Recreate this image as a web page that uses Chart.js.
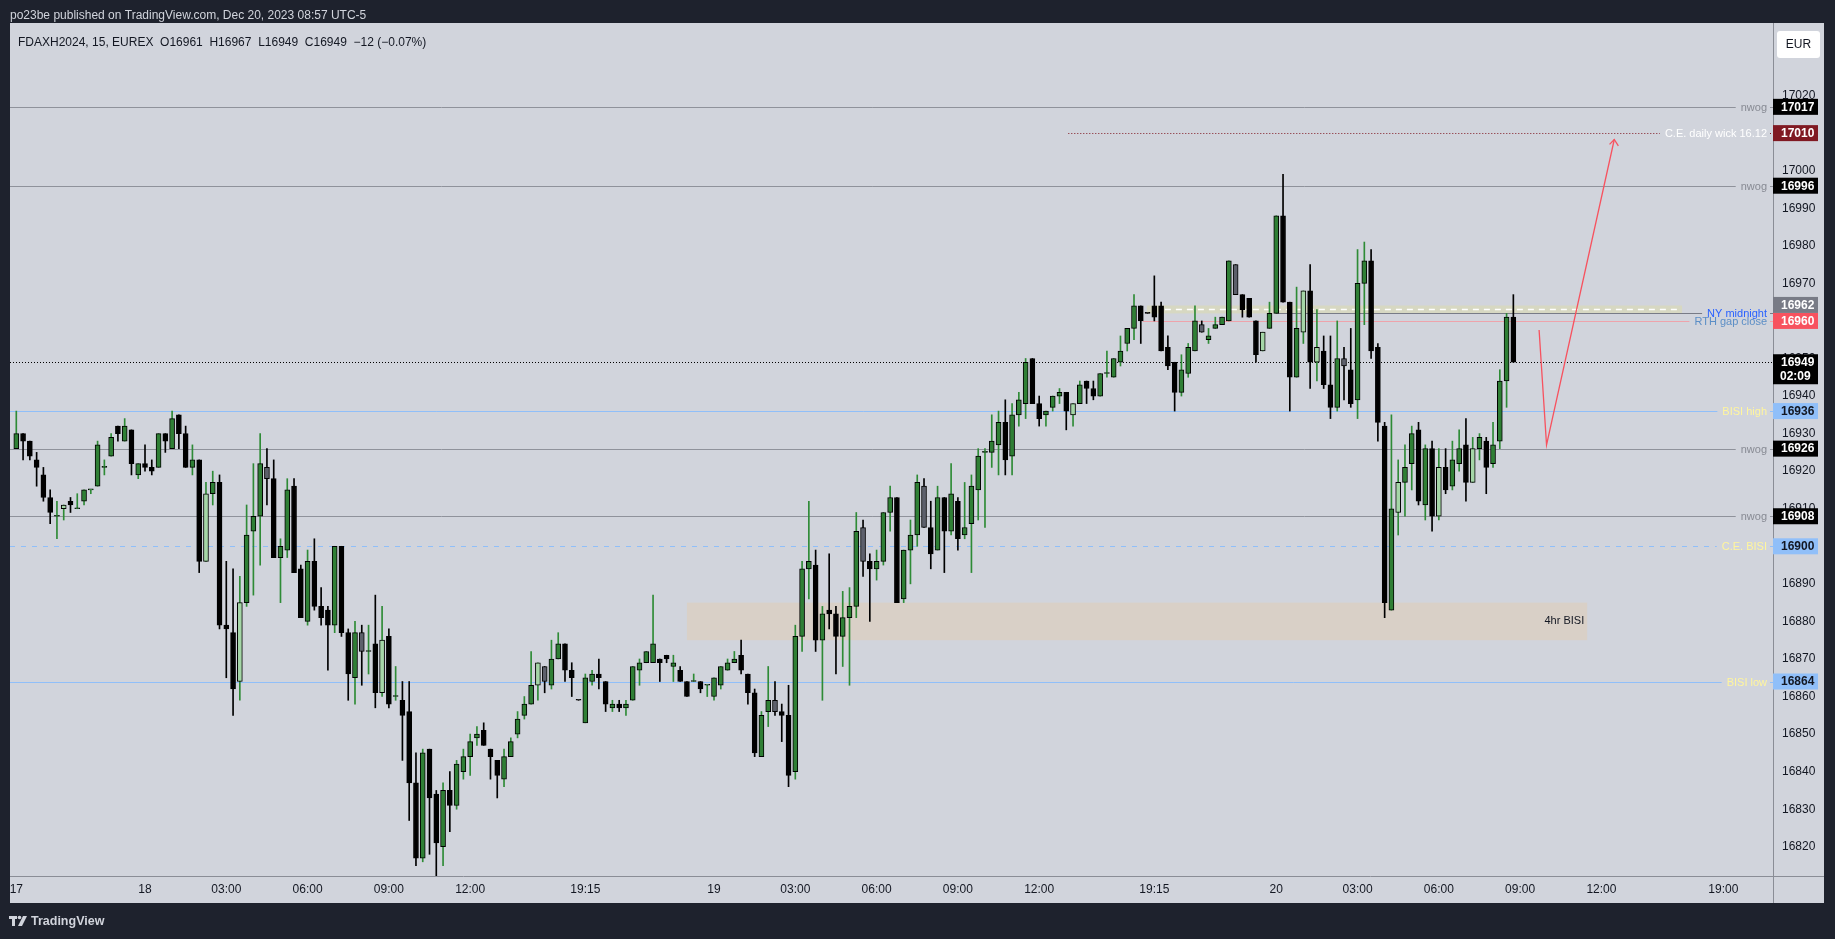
<!DOCTYPE html>
<html><head><meta charset="utf-8">
<script src="https://cdn.jsdelivr.net/npm/chart.js@4"></script>
<style>html,body{margin:0;padding:0;background:#1e222d;overflow:hidden}canvas{display:block}</style>
</head><body>
<canvas id="c" width="1835" height="939"></canvas>
<script>
// ---------- DATA (FDAXH2024, 15 min) ----------
const openP = [
16926,16930,16928,16923,16919,16913,16908,16910,16912,16910,
16912,16915,16916,16921,16924,16932,16928,16931,16919,16922,
16921,16921,16930,16926,16935,16930,16921,16923,16896,16914,
16917,16879,16877,16864,16885,16904,16908,16921,16918,16897,
16899,16916,16894,16880,16896,16884,16883,16879,16900,16877,
16865,16877,16872,16874,16861,16876,16860,16859,16856,16837,
16817,16846,16834,16820,16835,16831,16840,16844,16849,16851,
16846,16843,16838,16844,16850,16855,16858,16863,16868,16863,
16870,16874,16867,16859,16853,16864,16866,16864,16857,16858,
16857,16859,16867,16869,16869,16870,16871,16868,16867,16864,
16864,16864,16863,16860,16863,16867,16869,16871,16866,16861,
16844,16856,16859,16856,16855,16840,16876,16894,16895,16875,
16883,16882,16876,16881,16884,16905,16896,16894,16896,16909,
16913,16886,16899,16903,16916,16905,16899,16913,16904,16912,
16903,16906,16915,16925,16925,16927,16933,16924,16935,16938,
16950,16938,16935,16937,16940,16941,16935,16938,16944,16942,
16940,16946,16945,16949,16954,16958,16964,16962,16964,16964,
16953,16949,16941,16946,16952,16959,16955,16958,16959,16960,
16975,16967,16966,16960,16952,16958,16962,16988,16965,16945,
16957,16968,16949,16952,16943,16937,16950,16947,16939,16970,
16976,16953,16932,16883,16909,16917,16922,16931,16911,16926,
16908,16921,16916,16922,16927,16917,16926,16928,16922,16928,
16944,16961];
const highP = [
16936,16930,16928,16925,16921,16915,16912,16911,16913,16914,
16915,16915,16928,16923,16930,16932,16934,16931,16922,16927,
16923,16930,16930,16936,16935,16932,16927,16923,16917,16920,
16919,16896,16894,16892,16911,16922,16930,16926,16923,16902,
16918,16918,16895,16899,16902,16889,16884,16900,16900,16878,
16880,16879,16879,16887,16884,16878,16868,16864,16864,16845,
16846,16846,16835,16837,16840,16843,16846,16850,16852,16853,
16846,16843,16846,16849,16856,16860,16872,16869,16868,16875,
16877,16874,16869,16859,16866,16867,16870,16864,16859,16859,
16859,16868,16870,16872,16887,16870,16871,16871,16868,16864,
16866,16864,16863,16865,16868,16870,16872,16875,16866,16862,
16856,16868,16864,16858,16863,16879,16896,16912,16899,16884,
16898,16884,16888,16889,16909,16907,16898,16899,16909,16916,
16913,16899,16907,16919,16918,16912,16916,16913,16922,16913,
16917,16919,16926,16926,16935,16936,16939,16938,16941,16950,
16950,16940,16936,16940,16942,16941,16938,16944,16944,16944,
16946,16952,16950,16956,16958,16967,16964,16962,16972,16965,
16956,16949,16951,16954,16964,16960,16958,16961,16961,16976,
16975,16967,16966,16960,16957,16965,16988,16999,16965,16969,
16968,16975,16963,16956,16956,16960,16953,16958,16979,16981,
16979,16954,16933,16935,16923,16927,16932,16933,16927,16928,
16926,16926,16928,16931,16934,16929,16930,16929,16933,16947,
16962,16967];
const lowP = [
16926,16923,16923,16916,16912,16906,16902,16907,16909,16910,
16911,16914,16916,16919,16924,16928,16928,16919,16918,16920,
16919,16921,16925,16926,16926,16921,16919,16893,16896,16911,
16878,16865,16855,16859,16884,16887,16895,16911,16897,16885,
16897,16893,16881,16879,16883,16879,16867,16877,16876,16859,
16858,16863,16866,16857,16860,16857,16859,16843,16827,16815,
16816,16818,16812,16815,16824,16830,16838,16839,16847,16847,
16838,16833,16836,16844,16849,16854,16858,16859,16861,16862,
16870,16864,16860,16859,16853,16863,16862,16856,16856,16856,
16855,16859,16863,16869,16869,16864,16869,16864,16864,16860,
16864,16861,16860,16859,16862,16867,16869,16866,16858,16844,
16844,16852,16855,16848,16836,16838,16872,16886,16872,16859,
16878,16866,16868,16863,16881,16892,16880,16891,16895,16904,
16885,16885,16890,16900,16905,16894,16899,16893,16903,16899,
16902,16893,16907,16905,16921,16919,16919,16919,16932,16934,
16938,16932,16932,16936,16938,16931,16932,16938,16938,16939,
16940,16945,16945,16948,16952,16955,16954,16962,16960,16952,
16947,16936,16940,16945,16952,16957,16954,16958,16959,16960,
16967,16961,16961,16949,16952,16958,16962,16965,16936,16945,
16954,16942,16944,16942,16934,16936,16939,16937,16934,16959,
16950,16928,16881,16883,16903,16908,16915,16911,16907,16904,
16907,16914,16915,16920,16912,16917,16923,16914,16921,16926,
16937,16949];
const closeP = [
16930,16928,16924,16921,16913,16909,16908,16911,16911,16910,
16915,16915,16927,16921,16929,16930,16932,16922,16922,16921,
16920,16930,16928,16934,16930,16921,16923,16896,16914,16917,
16879,16878,16862,16885,16903,16908,16922,16918,16897,16900,
16915,16893,16881,16896,16884,16881,16879,16900,16877,16866,
16877,16872,16872,16861,16875,16858,16860,16855,16837,16817,
16845,16833,16821,16835,16831,16842,16844,16848,16850,16847,
16844,16839,16844,16848,16854,16858,16863,16869,16864,16870,
16874,16867,16865,16859,16865,16866,16865,16858,16858,16857,
16858,16868,16869,16872,16874,16869,16870,16869,16864,16860,
16864,16862,16863,16865,16868,16869,16870,16867,16861,16845,
16855,16859,16856,16855,16839,16876,16894,16896,16875,16882,
16882,16876,16881,16884,16904,16896,16894,16896,16909,16913,
16885,16899,16903,16917,16905,16898,16913,16904,16914,16902,
16905,16916,16924,16925,16928,16933,16923,16935,16939,16949,
16938,16934,16936,16940,16941,16936,16938,16943,16942,16940,
16946,16946,16950,16952,16958,16964,16960,16962,16961,16952,
16948,16941,16947,16953,16960,16957,16956,16959,16961,16976,
16967,16963,16961,16951,16957,16962,16988,16965,16945,16958,
16968,16949,16953,16943,16937,16950,16948,16938,16970,16976,
16952,16933,16885,16910,16917,16921,16930,16912,16926,16908,
16921,16915,16923,16926,16917,16926,16929,16921,16927,16944,
16961,16949];
// bar classification: G up, B down, L light up, D grey
const candleKind =
"GBBBBBGLBG"+"GGGGGBGBGB"+"BGBGBBGBLG"+"BBBLGGGDBG"+"GBBGBBBGBB"+
"GDGBLBGBBB"+"GBBGBGGGGB"+"BBGGGGGLDG"+"GBBBGGBBGB"+"GGGGGBBGBB"+
"GBGGGGGBBB"+"GGDBBGGGBG"+"BBGGGDBGGG"+"BGGGDBGBGB"+"GGGGGGBGGG"+
"BBGGGBLGBB"+"GGGGGGBBBB"+"BBGGGDGGGG"+"DBBBLGGBBG"+"LBLBBGDBGG"+
"BBBGLGGBGB"+"LBGGBLGBGG"+"GB";

// time axis labels (bar index -> label)
const tickIndex  = [0,19,31,43,55,67,84,103,115,127,139,151,168,186,198,210,222,234,252];
const tickLabels = ["17","18","03:00","06:00","09:00","12:00","19:15","19","03:00","06:00","09:00","12:00","19:15","20","03:00","06:00","09:00","12:00","19:00"];

// horizontal levels drawn on chart
const levelPrice = [17017, 17010, 16996, 16962, 16960, 16949, 16936, 16926, 16908, 16900, 16864];
const levelText  = ["nwog","C.E. daily wick 16.12","nwog","NY midnight","RTH gap close","","BISI high","nwog","nwog","C.E. BISI","BISI low"];
const levelStart = [null, 155.3, null, 186, 166.3, null, null, null, null, null, null];

// 4hr BISI zone, midnight band, arrow drawing (bar index / price)
const zoneTime = [99.0, 231.9];
const zonePrice = [16875, 16885];
const bandTime = [166.9, 245.9];
const bandPrice = [16962, 16964.1];
const arrowTime  = [224.8, 225.9, 235.9];
const arrowPrice = [16957.6, 16927.0, 17008.3];
const arrowHeadTime  = [235.2, 235.9, 236.5];
const arrowHeadPrice = [17007.0, 17008.3, 17006.6];

// ---------- STYLE ----------
const FONT = '"Liberation Sans", Arial, sans-serif';
const kindFill = {G:'#2f7f35', B:'#000000', L:'#a5d6a7', D:'#5d606b'};
const kindWick = {G:'#2e8b36', B:'#000000', L:'#2e8b36', D:'#000000'};
const NW = {c:'#8f929b', d:[], tc:'#878a93', bx:'#000000', bt:'#ffffff'};
const LV = [
  NW,
  {c:'#801922', d:[1,2], tc:'#ffffff', bx:'#801922', bt:'#ffffff'},
  NW,
  {c:'#787b86', d:[], tc:'#2962ff', bx:'#787b86', bt:'#ffffff'},
  {c:'#eea3ab', d:[], tc:'#5b8ec6', bx:'#f7525f', bt:'#ffffff'},
  {c:'#000000', d:[1,2], tc:null, bx:'#000000', bt:'#ffffff'},
  {c:'#90bff9', d:[], tc:'#fff59d', bx:'#90bff9', bt:'#131722'},
  NW, NW,
  {c:'#90bff9', d:[5,6], tc:'#fff59d', bx:'#90bff9', bt:'#131722'},
  {c:'#90bff9', d:[], tc:'#fff59d', bx:'#90bff9', bt:'#131722'}
];

const N = openP.length;
const ids = Array.from({length:N}, (_, i) => i);
const bodyData = ids.map(i => ({x:i, y:[openP[i], closeP[i]]}));
const wickData = ids.map(i => ({x:i, y:[lowP[i], highP[i]]}));
const bodyFill = ids.map(i => kindFill[candleKind[i]]);
const wickFill = ids.map(i => kindWick[candleKind[i]]);
const arrowData = arrowTime.map((t, k) => ({x:t, y:arrowPrice[k]}));
const arrowHeadData = arrowHeadTime.map((t, k) => ({x:t, y:arrowHeadPrice[k]}));

const framePlugin = {
  id:'frame',
  beforeDraw(chart){
    const c = chart.ctx;
    c.save();
    c.fillStyle = '#1e222d'; c.fillRect(0, 0, chart.width, chart.height);
    c.fillStyle = '#d1d4dc'; c.fillRect(10, 23, 1814, 880);
    c.restore();
  }
};

const drawPlugin = {
  id:'drawings',
  beforeDatasetsDraw(chart){
    const {ctx:c, chartArea:a, scales:{x, y}} = chart;
    c.save();
    c.beginPath(); c.rect(a.left, a.top, a.right - a.left, a.bottom - a.top); c.clip();
    // zone
    const zx0 = x.getPixelForValue(zoneTime[0]), zx1 = x.getPixelForValue(zoneTime[1]);
    const zy0 = y.getPixelForValue(zonePrice[1]), zy1 = y.getPixelForValue(zonePrice[0]);
    c.fillStyle = '#d9d0c7'; c.fillRect(zx0, zy0, zx1 - zx0, zy1 - zy0);
    c.font = '11px ' + FONT; c.fillStyle = '#131722'; c.textAlign = 'right'; c.textBaseline = 'middle';
    c.fillText('4hr BISI', zx1 - 3, (zy0 + zy1) / 2);
    // band
    const bx0 = x.getPixelForValue(bandTime[0]), bx1 = x.getPixelForValue(bandTime[1]);
    const by0 = y.getPixelForValue(bandPrice[1]), by1 = y.getPixelForValue(bandPrice[0]);
    c.fillStyle = '#d7d8c2'; c.fillRect(bx0, by0, bx1 - bx0, by1 - by0);
    c.strokeStyle = '#ffffff'; c.lineWidth = 1.5; c.setLineDash([6, 5]);
    const bym = (by0 + by1) / 2;
    c.beginPath(); c.moveTo(bx0 + 18, bym); c.lineTo(bx1 - 2, bym); c.stroke();
    // levels
    c.font = '11px ' + FONT;
    levelPrice.forEach((p, k) => {
      const s = LV[k];
      const yy = Math.round(y.getPixelForValue(p)) + 0.5;
      const sx = levelStart[k] == null ? a.left : x.getPixelForValue(levelStart[k]);
      c.strokeStyle = s.c; c.lineWidth = 1; c.setLineDash(s.d);
      const t = levelText[k];
      if (t) {
        const tr = a.right - 6;
        const tl = tr - c.measureText(t).width;
        c.beginPath(); c.moveTo(sx, yy); c.lineTo(tl - 5, yy); c.moveTo(tr + 3, yy); c.lineTo(a.right, yy); c.stroke();
        c.setLineDash([]);
        c.fillStyle = s.tc; c.textAlign = 'right'; c.textBaseline = 'middle';
        c.fillText(t, tr, yy);
      } else {
        c.beginPath(); c.moveTo(sx, yy); c.lineTo(a.right, yy); c.stroke();
      }
    });
    c.restore();
  }
};

const overlayPlugin = {
  id:'overlay',
  afterDraw(chart){
    const {ctx:c, chartArea:a, scales:{y}} = chart;
    c.save();
    // axis borders
    c.strokeStyle = '#8a8d96'; c.lineWidth = 1; c.setLineDash([]);
    c.beginPath();
    c.moveTo(a.right + 0.5, 23); c.lineTo(a.right + 0.5, 903);
    c.moveTo(10, a.bottom + 0.5); c.lineTo(1824, a.bottom + 0.5);
    c.stroke();
    // price boxes
    const boxes = levelPrice.map((p, k) => ({p, k, yc:y.getPixelForValue(p), h:(p === 16949 ? 30 : 16)}));
    boxes.sort((u, v) => v.yc - u.yc);
    let prevTop = Infinity;
    boxes.forEach(b => {
      let top = b.yc - 8;
      if (top + b.h > prevTop) { top = prevTop - b.h; }
      b.top = top; prevTop = top;
    });
    boxes.forEach(b => {
      const s = LV[b.k];
      c.fillStyle = s.bx; c.fillRect(a.right, b.top, 45, b.h);
      c.fillStyle = s.bt; c.font = 'bold 12px ' + FONT; c.textAlign = 'left'; c.textBaseline = 'middle';
      c.fillText(String(b.p), a.right + 8, b.top + 8.5);
      if (b.h > 16) c.fillText('02:09', a.right + 7, b.top + 22.5);
    });
    // EUR box (covers the topmost partial tick)
    c.fillStyle = '#d1d4dc'; c.fillRect(a.right + 2, 24, 49, 37);
    c.fillStyle = '#ffffff';
    c.beginPath(); c.roundRect(1777, 31, 43, 27, 3); c.fill();
    c.fillStyle = '#131722'; c.font = '12px ' + FONT; c.textAlign = 'center'; c.textBaseline = 'middle';
    c.fillText('EUR', 1798.5, 44.5);
    // header texts
    c.textAlign = 'left';
    c.fillStyle = '#d1d4dc'; c.font = '12px ' + FONT;
    c.fillText('po23be published on TradingView.com, Dec 20, 2023 08:57 UTC-5', 10, 15.5);
    c.fillStyle = '#131722';
    c.fillText('FDAXH2024, 15, EUREX  O16961  H16967  L16949  C16949  \u221212 (\u22120.07%)', 18, 42.5);
    // TradingView logo
    c.fillStyle = '#d1d4dc';
    c.fillRect(9, 916, 8, 3);
    c.fillRect(12, 916, 3, 10);
    c.beginPath(); c.arc(19.5, 917.5, 1.8, 0, Math.PI * 2); c.fill();
    c.beginPath(); c.moveTo(23, 916); c.lineTo(27, 916); c.lineTo(22, 926); c.lineTo(18, 926); c.closePath(); c.fill();
    c.font = 'bold 12.5px ' + FONT; c.textBaseline = 'middle';
    c.fillText('TradingView', 31, 921.5);
    c.restore();
  }
};

Chart.defaults.font.family = FONT;
new Chart(document.getElementById('c').getContext('2d'), {
  type:'bar',
  data:{datasets:[
    {type:'line', data:arrowData, borderColor:'#f7525f', borderWidth:1.3, pointRadius:0, tension:0, order:0},
    {type:'line', data:arrowHeadData, borderColor:'#f7525f', borderWidth:1.3, pointRadius:0, tension:0, order:0},
    {data:bodyData, backgroundColor:bodyFill, borderColor:'#000000', borderWidth:1, borderSkipped:false,
     barThickness:5, minBarLength:1, grouped:false, order:1},
    {data:wickData, backgroundColor:wickFill, barThickness:1, grouped:false, order:2}
  ]},
  options:{
    responsive:false, animation:false, events:[],
    layout:{padding:{left:10, top:23, right:11, bottom:36}},
    plugins:{legend:{display:false}, tooltip:{enabled:false}},
    scales:{
      x:{type:'linear', min:-0.93, max:259.33, offset:false, position:'bottom',
         grid:{display:false, drawTicks:false}, border:{display:false},
         afterBuildTicks:(s) => { s.ticks = tickIndex.map(v => ({value:v})); },
         afterFit:(s) => { s.height = 27; },
         ticks:{autoSkip:false, maxRotation:0, padding:6, color:'#131722', font:{size:12},
                callback:(v) => { const k = tickIndex.indexOf(v); return k >= 0 ? tickLabels[k] : ''; }}},
      y:{type:'linear', position:'right', min:16812.22, max:17039.32,
         grid:{display:false, drawTicks:false}, border:{display:false},
         afterFit:(s) => { s.width = 51; },
         ticks:{stepSize:10, includeBounds:false, padding:9, color:'#131722', font:{size:12},
                callback:(v) => String(Math.round(v))}}
    }
  },
  plugins:[framePlugin, drawPlugin, overlayPlugin]
});
</script>
</body></html>
